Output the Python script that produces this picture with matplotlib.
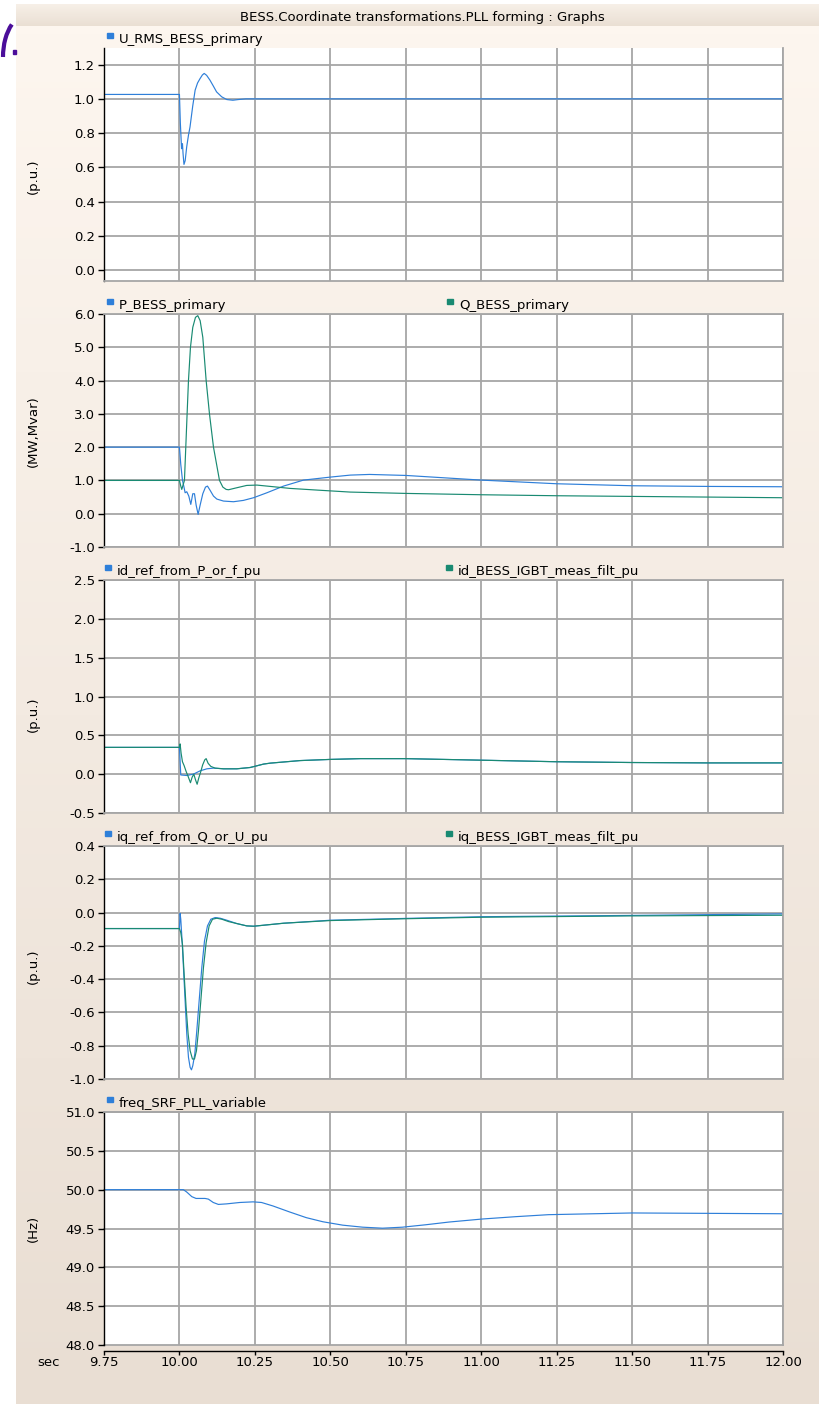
"""PowerFactory-style graph page: BESS PLL forming, five stacked panels."""

import matplotlib
matplotlib.use("Agg")
import matplotlib.pyplot as plt
import numpy as np
from matplotlib.colors import LinearSegmentedColormap
from matplotlib.patches import Rectangle, Arc

W, H, DPI = 819, 1404, 100
BLUE = "#2e7fd9"
GREEN = "#198a72"
GRID = "#a6a6a6"

TITLE = "BESS.Coordinate transformations.PLL forming : Graphs"
X_TICKS = [9.75, 10.00, 10.25, 10.50, 10.75, 11.00, 11.25, 11.50, 11.75, 12.00]

# U_RMS_BESS_primary
U_T = [9.75, 10.0, 10.003, 10.007, 10.010, 10.012, 10.015, 10.019, 10.024, 10.030,
       10.035, 10.044, 10.052, 10.060, 10.068, 10.076, 10.082, 10.090, 10.101, 10.112,
       10.123, 10.140, 10.157, 10.177, 10.195, 10.22, 12.0]
U_V = [1.028, 1.028, 0.86, 0.71, 0.74, 0.68, 0.618, 0.64, 0.72, 0.79,
       0.837, 0.96, 1.053, 1.095, 1.12, 1.142, 1.151, 1.14, 1.112, 1.078,
       1.043, 1.014, 0.998, 0.994, 0.998, 1.002, 1.002]

# P_BESS_primary
P_T = [9.75, 10.0, 10.0044, 10.010, 10.0155, 10.0188, 10.0243, 10.031, 10.0376, 10.0442,
       10.0498, 10.0553, 10.0619, 10.0686, 10.0774, 10.0863, 10.0929, 10.1018, 10.1128,
       10.1239, 10.146, 10.179, 10.212, 10.2455, 10.290, 10.345, 10.411, 10.500, 10.566,
       10.63, 10.75, 10.875, 11.0, 11.25, 11.5, 11.75, 12.0]
P_V = [2.0, 2.0, 1.48, 1.01, 0.78, 0.63, 0.66, 0.53, 0.28, 0.60,
       0.60, 0.26, -0.02, 0.26, 0.60, 0.80, 0.83, 0.70, 0.53,
       0.44, 0.38, 0.36, 0.40, 0.48, 0.63, 0.83, 1.01, 1.10, 1.16,
       1.18, 1.15, 1.08, 1.01, 0.90, 0.84, 0.82, 0.81]

# Q_BESS_primary
Q_T = [9.75, 10.0, 10.0044, 10.0077, 10.0133, 10.0166, 10.0210, 10.0254, 10.0299, 10.0365,
       10.0442, 10.0531, 10.0608, 10.0686, 10.0774, 10.0885, 10.0995, 10.1128, 10.1327,
       10.1438, 10.1548, 10.1626, 10.190, 10.223, 10.2566, 10.301, 10.367, 10.456, 10.566,
       10.75, 11.0, 11.25, 11.5, 11.75, 12.0]
Q_V = [1.0, 1.0, 0.83, 0.73, 0.9, 1.0, 2.0, 3.0, 4.0, 5.0,
       5.6, 5.9, 5.95, 5.8, 5.3, 4.0, 3.0, 2.0, 1.0,
       0.8, 0.73, 0.72, 0.78, 0.85, 0.86, 0.82, 0.76, 0.71, 0.65,
       0.61, 0.57, 0.54, 0.52, 0.50, 0.48]

# id_ref_from_P_or_f_pu
IDR_T = [9.75, 10.0, 10.0044, 10.024, 10.046, 10.0686, 10.091, 10.113, 10.146, 10.190,
         10.2345, 10.279, 10.301, 10.40, 10.5, 10.6, 10.75, 11.0, 11.25, 11.5, 11.75, 12.0]
IDR_V = [0.345, 0.345, -0.01, -0.017, 0.0, 0.043, 0.069, 0.078, 0.069, 0.069,
         0.086, 0.13, 0.142, 0.175, 0.19, 0.20, 0.20, 0.18, 0.16, 0.15, 0.145, 0.145]

# id_BESS_IGBT_meas_filt_pu
IDM_T = [9.75, 10.0, 10.0022, 10.0055, 10.010, 10.0155, 10.0221, 10.0288, 10.0365, 10.042,
         10.0476, 10.053, 10.0586, 10.064, 10.0708, 10.077, 10.084, 10.0885, 10.095, 10.104,
         10.118, 10.146, 10.190, 10.2345, 10.279, 10.301, 10.40, 10.5, 10.6, 10.75,
         11.0, 11.25, 11.5, 11.75, 12.0]
IDM_V = [0.345, 0.345, 0.39, 0.27, 0.16, 0.11, 0.035, -0.03, -0.11, -0.04,
         0.0, -0.07, -0.13, -0.05, 0.035, 0.12, 0.185, 0.20, 0.14, 0.10,
         0.078, 0.069, 0.069, 0.086, 0.13, 0.142, 0.175, 0.19, 0.20, 0.20,
         0.18, 0.16, 0.15, 0.145, 0.145]

# iq_ref_from_Q_or_U_pu
IQR_T = [9.75, 10.0, 10.0022, 10.0044, 10.0088, 10.0133, 10.0188, 10.0243, 10.0299, 10.0354,
         10.0398, 10.0442, 10.0509, 10.0575, 10.0653, 10.0741, 10.083, 10.0929, 10.104,
         10.1183, 10.135, 10.157, 10.190, 10.223, 10.2455, 10.279, 10.345, 10.5, 10.75,
         11.0, 11.5, 12.0]
IQR_V = [-0.096, -0.096, -0.005, -0.04, -0.17, -0.33, -0.53, -0.73, -0.87, -0.93,
         -0.945, -0.92, -0.85, -0.71, -0.53, -0.33, -0.17, -0.08, -0.04,
         -0.03, -0.034, -0.046, -0.066, -0.08, -0.082, -0.076, -0.064, -0.046, -0.035,
         -0.025, -0.017, -0.008]

# iq_BESS_IGBT_meas_filt_pu
IQM_T = [9.75, 10.0, 10.0044, 10.010, 10.0155, 10.0221, 10.0288, 10.0354, 10.0431, 10.0498,
         10.0564, 10.063, 10.0708, 10.0796, 10.0885, 10.0984, 10.1095, 10.1239, 10.1405,
         10.1626, 10.190, 10.223, 10.2455, 10.279, 10.345, 10.5, 10.75, 11.0, 11.5, 12.0]
IQM_V = [-0.096, -0.096, -0.12, -0.19, -0.37, -0.57, -0.73, -0.83, -0.88, -0.88,
         -0.83, -0.71, -0.53, -0.33, -0.18, -0.08, -0.04, -0.034, -0.04,
         -0.054, -0.066, -0.08, -0.082, -0.076, -0.064, -0.048, -0.037, -0.028, -0.02, -0.016]

# freq_SRF_PLL_variable
F_T = [9.75, 10.013, 10.024, 10.041, 10.055, 10.085, 10.096, 10.112, 10.129, 10.156,
       10.200, 10.244, 10.272, 10.310, 10.365, 10.420, 10.475, 10.541, 10.607, 10.673,
       10.739, 10.816, 10.893, 11.003, 11.113, 11.223, 11.5, 11.75, 12.0]
F_V = [50.0, 50.0, 49.97, 49.91, 49.887, 49.887, 49.878, 49.835, 49.81, 49.817,
       49.835, 49.843, 49.835, 49.79, 49.713, 49.64, 49.587, 49.543, 49.517, 49.504,
       49.517, 49.548, 49.583, 49.622, 49.652, 49.678, 49.70, 49.695, 49.69]

PANELS = [
    dict(top=48, ylim=(-0.065, 1.3), yticks=[0.0, 0.2, 0.4, 0.6, 0.8, 1.0, 1.2],
         ylabel="(p.u.)", ylabel_y=176,
         series=[("U_RMS_BESS_primary", U_T, U_V, BLUE, 107)]),
    dict(top=314, ylim=(-1.0, 6.0), yticks=[-1.0, 0.0, 1.0, 2.0, 3.0, 4.0, 5.0, 6.0],
         ylabel="(MW,Mvar)", ylabel_y=431,
         series=[("P_BESS_primary", P_T, P_V, BLUE, 107),
                 ("Q_BESS_primary", Q_T, Q_V, GREEN, 447)]),
    dict(top=580, ylim=(-0.5, 2.5), yticks=[-0.5, 0.0, 0.5, 1.0, 1.5, 2.0, 2.5],
         ylabel="(p.u.)", ylabel_y=714,
         series=[("id_ref_from_P_or_f_pu", IDR_T, IDR_V, BLUE, 105),
                 ("id_BESS_IGBT_meas_filt_pu", IDM_T, IDM_V, GREEN, 446)]),
    dict(top=846, ylim=(-1.0, 0.4), yticks=[-1.0, -0.8, -0.6, -0.4, -0.2, 0.0, 0.2, 0.4],
         ylabel="(p.u.)", ylabel_y=966,
         series=[("iq_ref_from_Q_or_U_pu", IQR_T, IQR_V, BLUE, 105),
                 ("iq_BESS_IGBT_meas_filt_pu", IQM_T, IQM_V, GREEN, 446)]),
    dict(top=1112, ylim=(48.0, 51.0), yticks=[48.0, 48.5, 49.0, 49.5, 50.0, 50.5, 51.0],
         ylabel="(Hz)", ylabel_y=1228,
         series=[("freq_SRF_PLL_variable", F_T, F_V, BLUE, 107)]),
]

PANEL_H = 233
LEFT, RIGHT = 104, 783
FS = 9.5

plt.rcParams["font.family"] = ["DejaVu Sans"]
plt.rcParams["axes.unicode_minus"] = False


def fx(x):
    return x / W


def fy(y):
    return 1 - y / H


fig = plt.figure(figsize=(W / DPI, H / DPI), dpi=DPI, facecolor="white")

# window background
bg = fig.add_axes([0, 0, 1, 1], zorder=-10)
grad = np.linspace(0, 1, 256).reshape(-1, 1)
body_cmap = LinearSegmentedColormap.from_list("body", ["#fdf6ef", "#e9ded3"])
bar_cmap = LinearSegmentedColormap.from_list("bar", ["#f7f0e8", "#eadfd3"])
bg.imshow(grad, cmap=body_cmap, extent=(16, W, H, 26), aspect="auto",
          interpolation="bilinear")
bg.imshow(grad, cmap=bar_cmap, extent=(16, W, 26, 4), aspect="auto",
          interpolation="bilinear")
bg.add_patch(Arc((27, 57), 48, 84, theta1=180, theta2=245, color="#4b0e9a", lw=3))
bg.add_patch(Rectangle((13, 50), 3, 4, color="#4b0e9a"))
bg.set_xlim(0, W)
bg.set_ylim(H, 0)
bg.axis("off")

fig.text(fx(422), fy(17), TITLE, ha="center", va="center", fontsize=FS)

for i, p in enumerate(PANELS):
    top = p["top"]
    ax = fig.add_axes([fx(LEFT), fy(top + PANEL_H), (RIGHT - LEFT) / W, PANEL_H / H])
    for name, t, v, color, lx in p["series"]:
        ax.plot(t, v, color=color, lw=0.85)
        fig.patches.append(Rectangle((fx(lx), fy(top - 10)), 6 / W, 5 / H,
                                     transform=fig.transFigure, color=color))
        fig.text(fx(lx + 12), fy(top - 5), name, fontsize=FS, va="baseline")

    ax.set_xlim(X_TICKS[0], X_TICKS[-1])
    ax.set_ylim(*p["ylim"])
    ax.set_xticks(X_TICKS)
    ax.set_yticks(p["yticks"])
    ax.set_yticklabels(["%.1f" % y for y in p["yticks"]])
    ax.grid(True, color=GRID, lw=1.3)
    ax.set_axisbelow(True)
    ax.tick_params(axis="y", direction="out", length=4.5, width=1, pad=2,
                   labelsize=FS)

    for side in ("top", "right", "bottom"):
        ax.spines[side].set_color(GRID)
        ax.spines[side].set_linewidth(1.3)
    ax.spines["left"].set_color("black")
    ax.spines["left"].set_linewidth(1)
    if i == 0:
        ax.spines["top"].set_visible(False)

    if i == len(PANELS) - 1:
        ax.spines["bottom"].set_color("black")
        ax.spines["bottom"].set_linewidth(1)
        ax.spines["bottom"].set_position(("outward", 4))
        ax.set_xticklabels(["%.2f" % x for x in X_TICKS])
        ax.tick_params(axis="x", direction="out", length=3, width=1, pad=1,
                       labelsize=FS)
        for gl in ax.get_ygridlines():
            gl.set_clip_on(False)
    else:
        ax.tick_params(axis="x", length=0, labelbottom=False)

    fig.text(fx(33), fy(p["ylabel_y"]), p["ylabel"], rotation=90,
             ha="center", va="center", fontsize=FS)

fig.text(fx(49), fy(1362), "sec", ha="center", va="center", fontsize=FS)

fig.savefig("out.png", dpi=DPI, facecolor="white")
